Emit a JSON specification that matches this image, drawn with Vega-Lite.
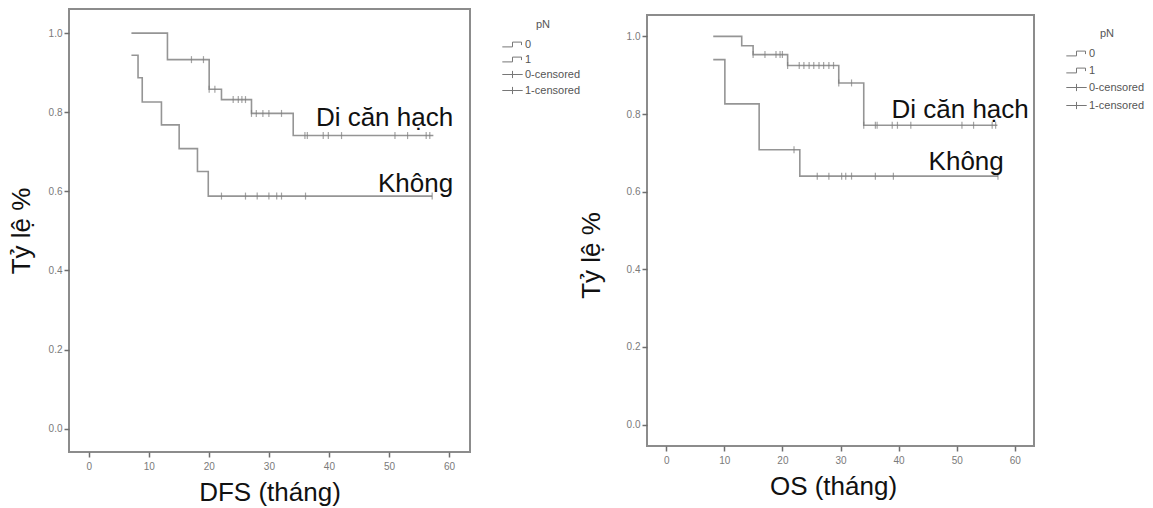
{
  "$schema": "https://vega.github.io/schema/vega-lite/v6.json",
  "background": "white",
  "padding": {"left": 7, "top": 8, "right": 0, "bottom": 0},
  "spacing": -5,
  "center": true,
  "datasets": {
    "dfs_line": [
      {"grp": "1", "t": 7.1, "v": 1.0}, {"grp": "1", "t": 13.1, "v": 0.933}, {"grp": "1", "t": 20.05, "v": 0.858},
      {"grp": "1", "t": 22.1, "v": 0.832}, {"grp": "1", "t": 27.1, "v": 0.797}, {"grp": "1", "t": 34.05, "v": 0.741},
      {"grp": "1", "t": 57.4, "v": 0.741},
      {"grp": "0", "t": 7.1, "v": 0.944}, {"grp": "0", "t": 8.2, "v": 0.887}, {"grp": "0", "t": 8.9, "v": 0.826},
      {"grp": "0", "t": 12.1, "v": 0.768}, {"grp": "0", "t": 15.05, "v": 0.708}, {"grp": "0", "t": 18.1, "v": 0.65},
      {"grp": "0", "t": 19.9, "v": 0.588}, {"grp": "0", "t": 57.2, "v": 0.588}
    ],
    "dfs_cens": [
      {"t": 17.1, "v": 0.933}, {"t": 19.1, "v": 0.933}, {"t": 20.05, "v": 0.858}, {"t": 21.0, "v": 0.858},
      {"t": 24.05, "v": 0.832}, {"t": 24.9, "v": 0.832}, {"t": 25.5, "v": 0.832}, {"t": 26.1, "v": 0.832},
      {"t": 27.1, "v": 0.797}, {"t": 27.9, "v": 0.797}, {"t": 29.0, "v": 0.797}, {"t": 30.0, "v": 0.797}, {"t": 32.1, "v": 0.797},
      {"t": 36.0, "v": 0.741}, {"t": 36.4, "v": 0.741}, {"t": 39.05, "v": 0.741}, {"t": 39.9, "v": 0.741}, {"t": 42.1, "v": 0.741},
      {"t": 51.0, "v": 0.741}, {"t": 53.1, "v": 0.741}, {"t": 56.2, "v": 0.741}, {"t": 56.8, "v": 0.741},
      {"t": 22.1, "v": 0.588}, {"t": 26.1, "v": 0.588}, {"t": 28.05, "v": 0.588}, {"t": 30.0, "v": 0.588},
      {"t": 31.3, "v": 0.588}, {"t": 32.1, "v": 0.588}, {"t": 36.1, "v": 0.588}, {"t": 57.2, "v": 0.588}
    ],
    "dfs_text": [
      {"label": "Di căn hạch", "t": 60.7, "v": 0.765},
      {"label": "Không", "t": 60.7, "v": 0.598}
    ],
    "os_line": [
      {"grp": "1", "t": 8.1, "v": 1.0}, {"grp": "1", "t": 13.0, "v": 0.976}, {"grp": "1", "t": 14.96, "v": 0.953},
      {"grp": "1", "t": 20.9, "v": 0.925}, {"grp": "1", "t": 29.7, "v": 0.88}, {"grp": "1", "t": 34.0, "v": 0.771},
      {"grp": "1", "t": 57.0, "v": 0.771},
      {"grp": "0", "t": 8.1, "v": 0.94}, {"grp": "0", "t": 10.1, "v": 0.826}, {"grp": "0", "t": 16.0, "v": 0.708},
      {"grp": "0", "t": 23.0, "v": 0.64}, {"grp": "0", "t": 57.1, "v": 0.64}
    ],
    "os_cens": [
      {"t": 14.96, "v": 0.953}, {"t": 17.0, "v": 0.953}, {"t": 18.9, "v": 0.953}, {"t": 19.6, "v": 0.953}, {"t": 20.0, "v": 0.953},
      {"t": 20.9, "v": 0.925}, {"t": 22.9, "v": 0.925}, {"t": 23.7, "v": 0.925}, {"t": 24.6, "v": 0.925}, {"t": 25.4, "v": 0.925},
      {"t": 26.3, "v": 0.925}, {"t": 27.1, "v": 0.925}, {"t": 28.0, "v": 0.925}, {"t": 28.8, "v": 0.925},
      {"t": 29.7, "v": 0.88}, {"t": 31.9, "v": 0.88},
      {"t": 34.0, "v": 0.771}, {"t": 36.0, "v": 0.771}, {"t": 36.3, "v": 0.771}, {"t": 38.9, "v": 0.771}, {"t": 39.8, "v": 0.771},
      {"t": 42.1, "v": 0.771}, {"t": 50.9, "v": 0.771}, {"t": 52.9, "v": 0.771}, {"t": 56.1, "v": 0.771}, {"t": 56.7, "v": 0.771},
      {"t": 22.0, "v": 0.708},
      {"t": 26.0, "v": 0.64}, {"t": 28.0, "v": 0.64}, {"t": 30.2, "v": 0.64}, {"t": 30.9, "v": 0.64}, {"t": 31.9, "v": 0.64},
      {"t": 36.0, "v": 0.64}, {"t": 39.1, "v": 0.64}, {"t": 57.1, "v": 0.64}
    ],
    "os_text": [
      {"label": "Di căn hạch", "t": 62.4, "v": 0.79},
      {"label": "Không", "t": 58.1, "v": 0.657}
    ],
    "legend_rows": [
      {"pN": "0"}, {"pN": "1"}, {"pN": "0-censored"}, {"pN": "1-censored"}
    ]
  },
  "config": {
    "font": "Liberation Sans",
    "view": {"stroke": "#8c8c8c", "strokeWidth": 2, "fill": "#f0f0f0"},
    "axis": {
      "domain": false, "grid": false,
      "tickColor": "#6e6e6e", "tickSize": 5, "tickWidth": 1.5,
      "labelFont": "Liberation Sans", "labelFontSize": 10, "labelColor": "#7a7a7a",
      "titleFont": "Liberation Sans", "titleFontSize": 26, "titleFontWeight": "normal", "titleColor": "#111111"
    },
    "legend": {
      "titleFont": "Liberation Sans", "titleFontSize": 11, "titleFontWeight": "normal", "titleColor": "#555555",
      "labelFont": "Liberation Sans", "labelFontSize": 11, "labelColor": "#555555",
      "symbolSize": 144, "symbolStrokeWidth": 1, "symbolStrokeColor": "#777777", "symbolFillColor": "transparent",
      "symbolOpacity": 1, "rowPadding": 3, "titleAnchor": "middle", "titlePadding": 8, "labelOffset": 6, "padding": 0,
      "orient": "none"
    }
  },
  "hconcat": [
    {
      "width": 401,
      "height": 443,
      "layer": [
        {
          "data": {"name": "dfs_line"},
          "mark": {"type": "line", "interpolate": "step-after", "color": "#959595", "strokeWidth": 1.6},
          "encoding": {
            "x": {"field": "t", "type": "quantitative", "scale": {"domain": [-3.3, 63.5], "nice": false, "zero": false},
                  "axis": {"values": [0, 10, 20, 30, 40, 50, 60], "title": "DFS (tháng)", "labelPadding": 4, "titlePadding": 8}},
            "y": {"field": "v", "type": "quantitative", "scale": {"domain": [-0.059, 1.061], "nice": false, "zero": false},
                  "axis": {"values": [0, 0.2, 0.4, 0.6, 0.8, 1.0], "format": ".1f", "title": "Tỷ lệ %", "labelPadding": 2, "titlePadding": 14}},
            "detail": {"field": "grp"}
          }
        },
        {
          "data": {"name": "dfs_cens"},
          "mark": {"type": "tick", "orient": "vertical", "color": "#7d7d7d", "size": 7, "thickness": 1.2},
          "encoding": {
            "x": {"field": "t", "type": "quantitative"},
            "y": {"field": "v", "type": "quantitative"}
          }
        },
        {
          "data": {"name": "dfs_text"},
          "mark": {"type": "text", "align": "right", "baseline": "alphabetic", "fontSize": 26, "font": "Liberation Sans", "color": "#111111"},
          "encoding": {
            "x": {"field": "t", "type": "quantitative"},
            "y": {"field": "v", "type": "quantitative"},
            "text": {"field": "label"}
          }
        },
        {
          "data": {"name": "legend_rows"},
          "mark": {"type": "point", "filled": false, "color": "#777777", "opacity": 0},
          "encoding": {
            "shape": {"field": "pN", "type": "nominal",
                      "scale": {"domain": ["0", "1", "0-censored", "1-censored"],
                                "range": ["M-1.7,0.4H0V-0.4H1.5V0.1", "M-1.7,0.4H0V-0.4H1.5V0.1", "M-1.7,0H1.7M0,-0.6V0.6", "M-1.7,0H1.7M0,-0.6V0.6"]},
                      "legend": {"title": "pN", "orient": "none", "legendX": 437, "legendY": 10}}
          }
        }
      ]
    },
    {
      "width": 387,
      "height": 431,
      "layer": [
        {
          "data": {"name": "os_line"},
          "mark": {"type": "line", "interpolate": "step-after", "color": "#959595", "strokeWidth": 1.6},
          "encoding": {
            "x": {"field": "t", "type": "quantitative", "scale": {"domain": [-3.3, 63.3], "nice": false, "zero": false},
                  "axis": {"values": [0, 10, 20, 30, 40, 50, 60], "title": "OS (tháng)", "labelPadding": 4, "titlePadding": 8, "titleX": 186}},
            "y": {"field": "v", "type": "quantitative", "scale": {"domain": [-0.055, 1.055], "nice": false, "zero": false},
                  "axis": {"values": [0, 0.2, 0.4, 0.6, 0.8, 1.0], "format": ".1f", "title": "Tỷ lệ %", "labelPadding": 2, "titlePadding": 22, "titleY": 240}},
            "detail": {"field": "grp"}
          }
        },
        {
          "data": {"name": "os_cens"},
          "mark": {"type": "tick", "orient": "vertical", "color": "#7d7d7d", "size": 7, "thickness": 1.2},
          "encoding": {
            "x": {"field": "t", "type": "quantitative"},
            "y": {"field": "v", "type": "quantitative"}
          }
        },
        {
          "data": {"name": "os_text"},
          "mark": {"type": "text", "align": "right", "baseline": "alphabetic", "fontSize": 26, "font": "Liberation Sans", "color": "#111111"},
          "encoding": {
            "x": {"field": "t", "type": "quantitative"},
            "y": {"field": "v", "type": "quantitative"},
            "text": {"field": "label"}
          }
        },
        {
          "data": {"name": "legend_rows"},
          "mark": {"type": "point", "filled": false, "color": "#777777", "opacity": 0},
          "encoding": {
            "shape": {"field": "pN", "type": "nominal",
                      "scale": {"domain": ["0", "1", "0-censored", "1-censored"],
                                "range": ["M-1.7,0.4H0V-0.4H1.5V0.1", "M-1.7,0.4H0V-0.4H1.5V0.1", "M-1.7,0H1.7M0,-0.6V0.6", "M-1.7,0H1.7M0,-0.6V0.6"]},
                      "legend": {"title": "pN", "orient": "none", "legendX": 423, "legendY": 13, "rowPadding": 5}}
          }
        }
      ]
    }
  ],
  "resolve": {"scale": {"x": "independent", "y": "independent", "shape": "independent"}, "legend": {"shape": "independent"}}
}
